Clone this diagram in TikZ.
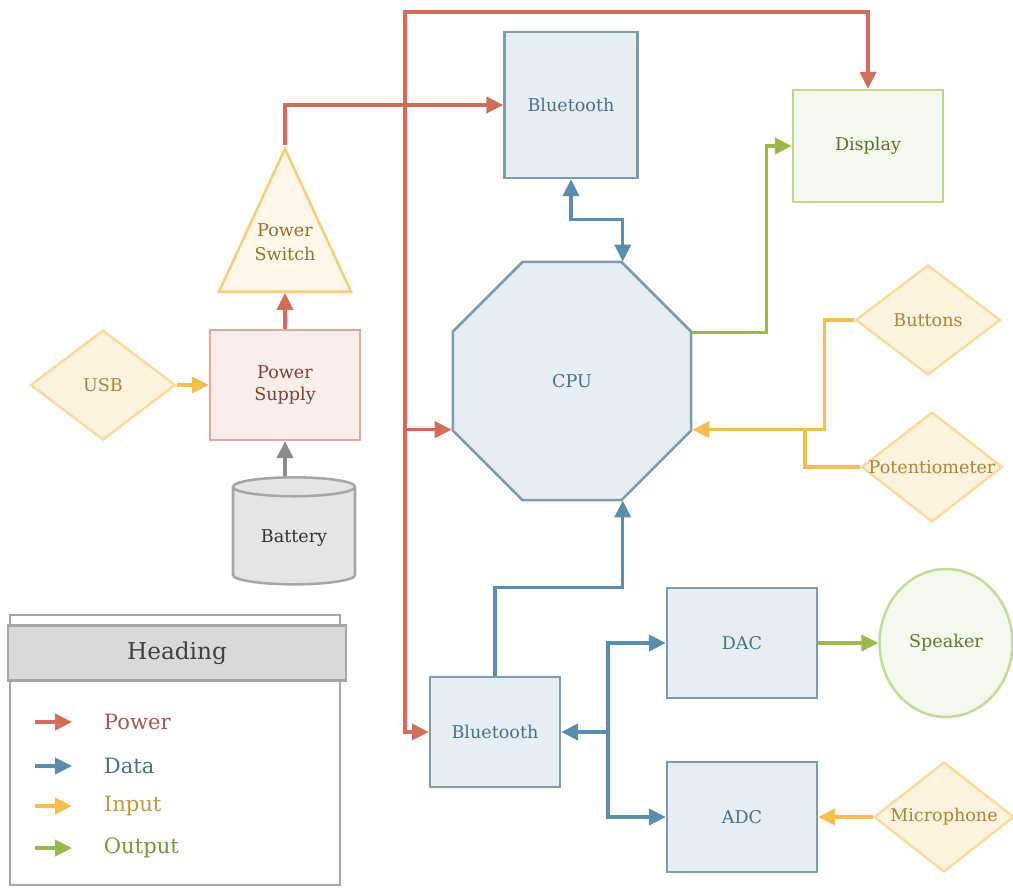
\documentclass[tikz,border=0pt]{standalone}
\usepackage{fontspec}
\setmainfont{DejaVu Serif}
\usetikzlibrary{shapes.geometric,arrows.meta}

\definecolor{pwr}{RGB}{208,110,90}
\definecolor{dat}{RGB}{90,140,172}
\definecolor{inp}{RGB}{244,190,80}
\definecolor{outp}{RGB}{156,184,74}
\definecolor{grayc}{RGB}{140,140,140}
\newcommand{\pxl}{0.025cm}

\begin{document}
\begin{tikzpicture}[x=0.025cm,y=-0.025cm,
 font=\fontsize{12.5}{15}\selectfont,
 every node/.style={align=center,line width=1.8pt},
 databox/.style={rectangle,draw=dat!80!black!70,fill=dat!15,text=dat!80!black,
   minimum width=#1*\pxl,minimum height=110*\pxl},
 databox/.default=150,
 inbox/.style={diamond,aspect=1.3,draw=inp!55,fill=inp!18,text=inp!70!black,inner sep=0pt,
   minimum width=145*\pxl,minimum height=110*\pxl},
 link/.style={line width=2.4pt,-{Triangle[length=12pt,width=11.5pt]}},
 bilink/.style={line width=2.4pt,{Triangle[length=12pt,width=11.5pt]}-{Triangle[length=12pt,width=11.5pt]}},
 wire/.style={line width=2.4pt}]

\useasboundingbox (0,0) rectangle (1013,890);

% power side
\node [inbox] (usb) at (103,385) {USB};
\node [rectangle,draw=pwr!60,fill=pwr!12,text=pwr!60!black,
  minimum width=150*\pxl,minimum height=110*\pxl] (pws) at (285,385) {Power\\Supply};
\node [isosceles triangle,shape border rotate=90,isosceles triangle stretches,
  draw=inp!75,fill=inp!12,text=inp!60!black,inner sep=0pt,anchor=south,
  minimum width=132*\pxl,minimum height=143*\pxl] (sw) at (285,293)
  {\raisebox{0pt}[\height][\dimexpr\depth+16pt\relax]{\begin{tabular}{@{}c@{}}Power\\[2pt]Switch\end{tabular}}};
\node [cylinder,shape border rotate=90,aspect=0.25,draw=gray!70,fill=gray!20,text=gray!40!black,
  minimum width=122*\pxl,minimum height=107*\pxl] (bat) at (294,538) {Battery};

% core
\node [databox=133,minimum height=146*\pxl] (bt1) at (571,105) {Bluetooth};
\node [rectangle,draw=outp!60,fill=outp!10,text=outp!60!black,
  minimum width=150*\pxl,minimum height=112*\pxl] (dsp) at (868,146) {Display};
\node [regular polygon,regular polygon sides=8,draw=dat!80!black!70,fill=dat!15,
  text=dat!80!black,minimum size=258*\pxl] (cpu) at (572,381) {CPU};
\node [inbox] (btn) at (928,320) {Buttons};
\node [inbox,minimum width=141*\pxl,inner xsep=-10pt] (pot) at (932,467) {Potentiometer};

% audio
\node [databox=130] (bt2) at (495,732) {Bluetooth};
\node [databox] (dac) at (742,643) {DAC};
\node [databox] (adc) at (742,817) {ADC};
\node [ellipse,draw=outp!55,fill=outp!10,text=outp!65!black,
  minimum width=133*\pxl,minimum height=148*\pxl] (spk) at (946,643) {Speaker};
\node [inbox,minimum width=140*\pxl] (mic) at (944,817) {Microphone};

\coordinate (j1) at (405,105);
\coordinate (top) at (405,12);
\coordinate (j2) at (608,732);
\coordinate (j3) at (805,429);

% power
\draw [link,pwr] (pws.north) -- (sw.south);
\draw [link,pwr] (sw.apex) |- (bt1.west);
\draw [link,pwr] (j1) -- (top) -| (dsp.north);
\draw [link,pwr] (j1) |- (cpu.202.5);
\draw [link,pwr] (j1) |- (bt2.west);
\draw [link,grayc] (bat.north -| pws.south) -- (pws.south);

% data
\draw [bilink,dat] (bt1.south) -- ++(0,40) -| (cpu.67.5);
\draw [link,dat] (bt2.north) -- ++(0,-88) -| (cpu.-67.5);
\draw [link,dat] (j2) -- (bt2.east);
\draw [link,dat] (j2) |- (dac.west);
\draw [link,dat] (j2) |- (adc.west);

% input
\draw [link,inp] (usb.east) -- (pws.west);
\draw [link,inp] (btn.west) -- ++(-30,0) |- (cpu.-22.5);
\draw [wire,inp] (pot.west) -| (j3);
\draw [link,inp] (mic.west) -- (adc.east);

% output
\draw [link,outp] (cpu.22.5) -- ++(74,0) |- (dsp.west);
\draw [link,outp] (dac.east) -- (spk.west);

% legend
\node [rectangle,draw=gray!70,minimum width=330*\pxl,minimum height=270*\pxl] (leg) at (175,750) {};
\node [rectangle,draw=gray!70,fill=gray!30,text=gray!50!black,font=\fontsize{16.5}{19}\selectfont,
  minimum width=338*\pxl,minimum height=55*\pxl] (hd) at (177,653) {Heading};
\foreach \y/\c/\t in {722/pwr/Power,766/dat/Data,806/inp/Input,848/outp/Output} {
  \coordinate (l\c) at (35,\y);
  \coordinate (e\c) at (72,\y);
  \node [anchor=west,text=\c!80!black,font=\fontsize{15}{18}\selectfont] (t\c) at (98,\y) {\t};
  \draw [link,\c] (l\c) -- (e\c);
}

\end{tikzpicture}
\end{document}
